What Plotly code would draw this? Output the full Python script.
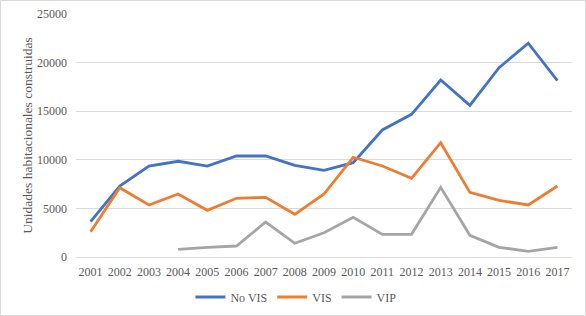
import plotly.graph_objects as go

years = [str(y) for y in range(2001, 2018)]
no_vis = [3650, 7300, 9360, 9850, 9360, 10390, 10390, 9430, 8920, 9700, 13070, 14680, 18210, 15600, 19480, 21990, 18140]
vis = [2600, 7130, 5350, 6480, 4800, 6040, 6140, 4390, 6480, 10260, 9360, 8090, 11760, 6650, 5830, 5350, 7300]
vip = [None, None, None, 790, 1000, 1130, 3600, 1410, 2500, 4080, 2330, 2330, 7170, 2230, 1000, 590, 1000]

series = [("No VIS", no_vis, "#4472C4"), ("VIS", vis, "#ED7D31"), ("VIP", vip, "#A5A5A5")]

fig = go.Figure()
for name, vals, col in series:
    fig.add_trace(go.Scatter(x=years, y=vals, name=name, mode="lines",
                             line=dict(color=col, width=2.8), connectgaps=False))

W, H = 586, 316
L, R, T, B = 76, 14, 14, 59
pw, ph = W - L - R, H - T - B

fam = "Liberation Serif"
font = dict(family=fam, size=12, color="#595959")
fig.update_layout(
    width=W, height=H,
    margin=dict(l=L, r=R, t=T, b=B),
    paper_bgcolor="white", plot_bgcolor="white",
    font=font,
    showlegend=True,
    legend=dict(orientation="h", xref="container", yref="container",
                x=0.505, xanchor="center", y=1 - 297 / H, yanchor="middle",
                font=dict(family=fam, size=12, color="#595959"),
                itemwidth=30, tracegroupgap=0),
    xaxis=dict(type="category", range=[-0.5, 16.5], showgrid=False,
               showline=True, linecolor="#D9D9D9", linewidth=1,
               ticks="", tickfont=font, ticklabelstandoff=4, fixedrange=True,
               automargin=False),
    yaxis=dict(range=[0, 25000], tickvals=[0, 5000, 10000, 15000, 20000, 25000],
               ticktext=["0", "5000", "10000", "15000", "20000", "25000"],
               showgrid=True, gridcolor="#D9D9D9", gridwidth=1, zeroline=False,
               showline=False, ticks="", tickfont=font, ticklabelstandoff=8,
               automargin=False, fixedrange=True,
               title=dict(text="Unidades habitacionales construidas",
                          font=dict(family=fam, size=13.5, color="#595959"),
                          standoff=1)),
    shapes=[dict(type="rect", xref="paper", yref="paper",
                 x0=-(L - 0.5) / pw, x1=(W - 0.5 - L) / pw,
                 y0=-(B - 0.5) / ph, y1=(H - B - 0.5) / ph,
                 line=dict(color="#D9D9D9", width=1), fillcolor="rgba(0,0,0,0)")],
)
fig.write_html("out.html", config={"displayModeBar": False},
               post_script="document.body.style.margin='0';document.body.style.overflow='hidden';")
